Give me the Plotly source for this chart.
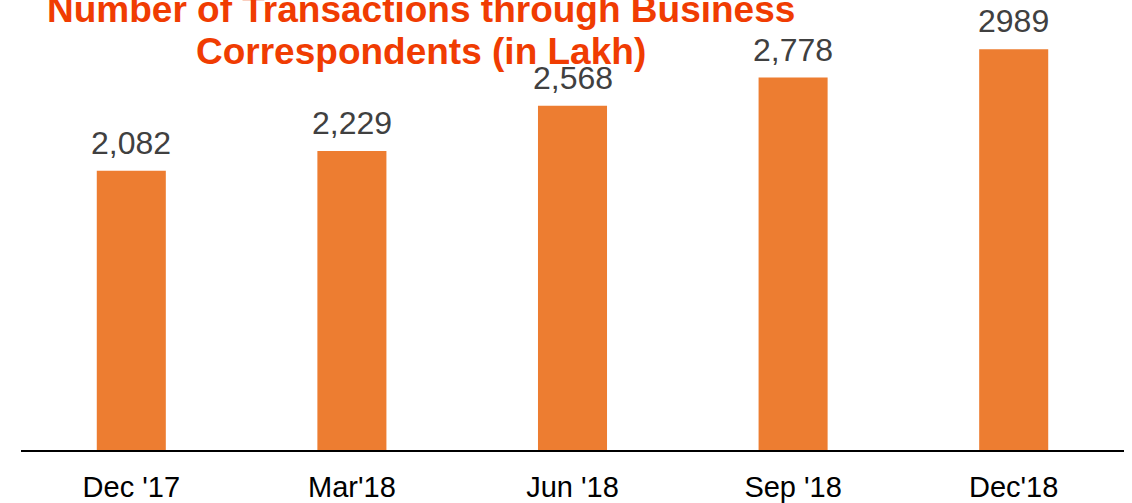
import plotly.graph_objects as go

categories = ["Dec '17", "Mar'18", "Jun '18", "Sep '18", "Dec'18"]
values = [2082, 2229, 2568, 2778, 2989]
value_labels = ["2,082", "2,229", "2,568", "2,778", "2989"]
title_lines = ["Number of Transactions through Business", "Correspondents (in Lakh)"]

BAR = "#ED7D31"
TITLE = "#F03C02"
FONT = "Liberation Sans, Arial, sans-serif"

fig = go.Figure(go.Bar(
    x=categories, y=values, marker_color=BAR, marker_line_width=0,
    hoverinfo="skip",
))

annotations = []
for c, v, t in zip(categories, values, value_labels):
    annotations.append(dict(
        x=c, y=v, xref="x", yref="y", text=t, showarrow=False,
        yanchor="bottom", yshift=8,
        font=dict(family=FONT, size=32, color="#404040"),
    ))

title_y = [0.98, 0.886]
for line, yy in zip(title_lines, title_y):
    annotations.append(dict(
        x=0.3627, y=yy, xref="paper", yref="paper", text="<b>%s</b>" % line,
        showarrow=False, xanchor="center", yanchor="middle",
        font=dict(family=FONT, size=37, color=TITLE),
    ))

fig.update_layout(
    width=1132, height=503,
    margin=dict(l=21, r=8, t=0, b=53, pad=0),
    paper_bgcolor="white", plot_bgcolor="white",
    bargap=0.687,
    showlegend=False,
    annotations=annotations,
    xaxis=dict(
        showline=True, linecolor="#000000", linewidth=2,
        showgrid=False, zeroline=False, ticks="",
        tickfont=dict(family=FONT, size=29, color="#000000"),
        ticklabelstandoff=10,
    ),
    yaxis=dict(
        range=[0, 3356], visible=False, showgrid=False, zeroline=False,
    ),
)

fig.write_html(
    "out.html",
    config={"displayModeBar": False},
    post_script="document.body.style.margin='0px';",
)
